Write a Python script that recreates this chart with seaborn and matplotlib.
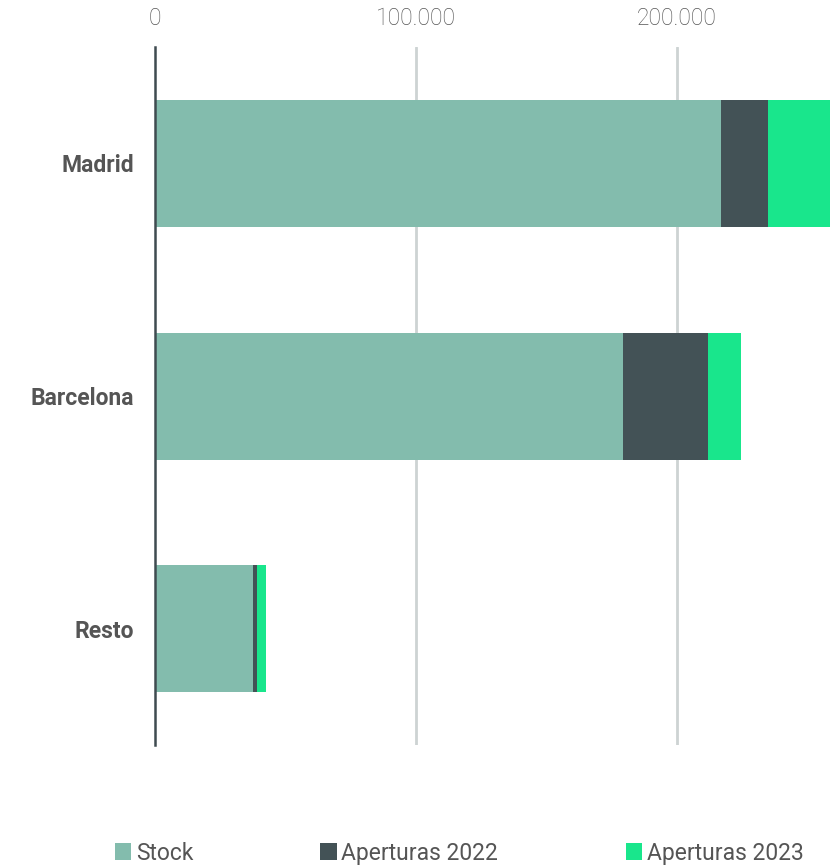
import seaborn as sns
import pandas as pd
import matplotlib.pyplot as plt
from matplotlib.patches import Patch

ciudades = ["Madrid", "Barcelona", "Resto"]
stock = [217000, 179500, 37600]
aperturas_2022 = [18000, 32500, 1500]
aperturas_2023 = [24000, 12800, 3500]
series = ["Stock", "Aperturas 2022", "Aperturas 2023"]
colores = ["#83bcad", "#435256", "#19e68c"]
ticks = [0, 100000, 200000]
tick_labels = ["0", "100.000", "200.000"]


def main():
    df = pd.DataFrame({
        "ciudad": ciudades,
        "stock": stock,
        "a2022": aperturas_2022,
        "a2023": aperturas_2023,
    })
    df["hasta_2022"] = df["stock"] + df["a2022"]
    df["total"] = df["hasta_2022"] + df["a2023"]

    sns.set_theme(style="white")
    plt.rcParams["font.family"] = ["Roboto", "DejaVu Sans"]

    fig = plt.figure(figsize=(8.33, 8.67), dpi=100)
    ax = fig.add_axes([0.186, 0.1407, 0.814, 0.805])

    # stacked by overlaying cumulative totals
    for col, color in zip(["total", "hasta_2022", "stock"], colores[::-1]):
        sns.barplot(data=df, x=col, y="ciudad", orient="h", color=color,
                    width=0.546, saturation=1, ax=ax, zorder=3, linewidth=0)

    ax.set_xlim(0, 260000)
    ax.set_ylim(2.5, -0.5)
    ax.set_xticks(ticks)
    ax.set_xticklabels(tick_labels, fontsize=16.5, color="#555555", fontweight="light")
    ax.xaxis.tick_top()
    ax.tick_params(axis="x", length=0, pad=12)
    ax.tick_params(axis="y", length=0, pad=15)
    for lbl in ax.get_yticklabels():
        lbl.set_fontsize(16.5)
        lbl.set_fontweight("bold")
        lbl.set_color("#555555")
    ax.set_xlabel("")
    ax.set_ylabel("")
    for x in ticks[1:]:
        ax.axvline(x, color="#cdd3d3", linewidth=2, zorder=1)
    for s in ["top", "right", "bottom"]:
        ax.spines[s].set_visible(False)
    ax.spines["left"].set_color("#3f4b50")
    ax.spines["left"].set_linewidth(1.8)
    ax.spines["left"].set_zorder(4)

    handles = [Patch(facecolor=c, edgecolor="none", label=l) for c, l in zip(colores, series)]
    fig.legend(handles=handles, loc="center left", bbox_to_anchor=(0.124, 0.016),
               ncol=3, frameon=False, fontsize=16.5, handlelength=0.72, handleheight=0.72,
               handletextpad=0.2, columnspacing=5.55, labelcolor="#555555", borderpad=0)

    fig.savefig("out.png", dpi=100)


if __name__ == "__main__":
    main()
